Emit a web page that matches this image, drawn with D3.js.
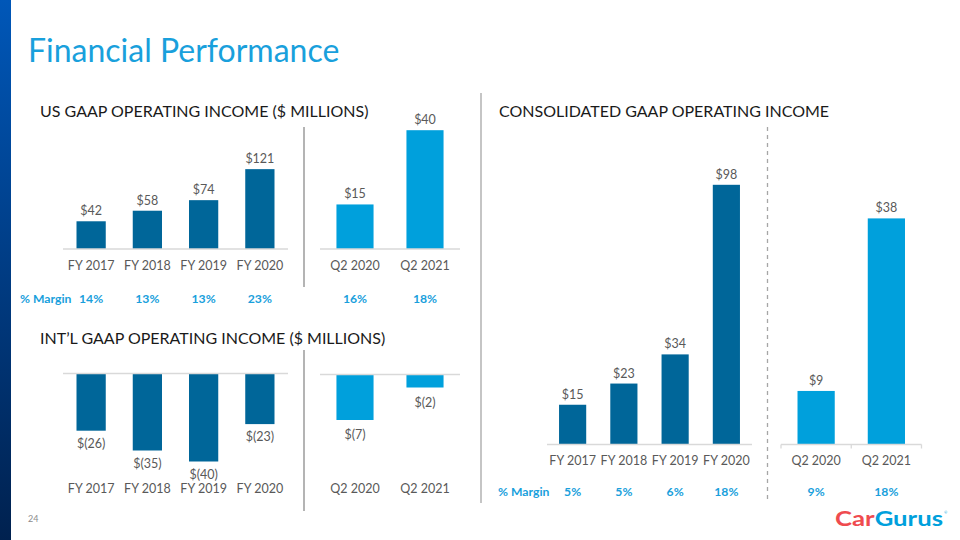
<!DOCTYPE html>
<html>
<head>
<meta charset="utf-8">
<script src="https://cdn.jsdelivr.net/npm/d3@7"></script>
<style>
  html, body { margin: 0; padding: 0; background: #fff; }
  svg { display: block; font-family: Lato, "Open Sans", sans-serif; }
</style>
</head>
<body>
<svg id="chart" width="960" height="540"></svg>
<script>
// ---------- DATA ----------
const fyCategories = ["FY 2017", "FY 2018", "FY 2019", "FY 2020"];
const qCategories = ["Q2 2020", "Q2 2021"];

const usFyValues = [42, 58, 74, 121];
const usQValues = [15, 40];
const usFyMargins = ["14%", "13%", "13%", "23%"];
const usQMargins = ["16%", "18%"];

const intlFyValues = [-26, -35, -40, -23];
const intlQValues = [-7, -2];

const consFyValues = [15, 23, 34, 98];
const consQValues = [9, 38];
const consFyMargins = ["5%", "5%", "6%", "18%"];
const consQMargins = ["9%", "18%"];

const titles = {
  main: "Financial Performance",
  us: "US GAAP OPERATING INCOME ($ MILLIONS)",
  intl: "INT\u2019L GAAP OPERATING INCOME ($ MILLIONS)",
  cons: "CONSOLIDATED GAAP OPERATING INCOME",
  margin: "% Margin",
  page: "24"
};

// ---------- STYLE ----------
const DARK = "#006699";
const LIGHT = "#00a0dc";
const TITLE_BLUE = "#19a0dc";
const LABEL = "#595959";
const AXIS = "#d9d9d9";

const svg = d3.select("#chart");

// left gradient strip
const defs = svg.append("defs");
const grad = defs.append("linearGradient").attr("id", "strip")
  .attr("x1", 0).attr("y1", 0).attr("x2", 0).attr("y2", 1);
grad.append("stop").attr("offset", "0%").attr("stop-color", "#0057b8");
grad.append("stop").attr("offset", "100%").attr("stop-color", "#00214f");
svg.append("rect").attr("x", 0).attr("y", 0).attr("width", 11).attr("height", 540)
  .attr("fill", "url(#strip)");

// main title
svg.append("text").attr("x", 28).attr("y", 62)
  .attr("font-size", 32).attr("fill", TITLE_BLUE).text(titles.main);

// section headers
function header(x, y, t) {
  svg.append("text").attr("x", x).attr("y", y)
    .attr("font-size", 16).attr("fill", "#1a1a1a").text(t);
}
header(40, 117, titles.us);
header(40, 344, titles.intl);
header(499, 117, titles.cons);

const fmt = v => v < 0 ? `$(${Math.abs(v)})` : `$${v}`;

// generic bar panel: y(v) = y0 - v*k
function panel(o) {
  const x = d3.scaleBand().domain(o.cats).range(o.xr)
    .paddingInner(o.pad).paddingOuter(o.pad / 2);
  const y = d3.scaleLinear().domain([0, 1]).range([o.y0, o.y0 - o.k]);

  const g = svg.append("g");
  g.selectAll("rect").data(o.vals).join("rect")
    .attr("x", (d, i) => x(o.cats[i]))
    .attr("width", x.bandwidth())
    .attr("y", d => Math.min(y(d), y(0)))
    .attr("height", d => Math.abs(y(d) - y(0)))
    .attr("fill", o.color);

  // axis line
  const axis = d3.axisBottom(x).tickSize(0).tickFormat("");
  const ag = g.append("g").attr("transform", `translate(0,${o.y0})`).call(axis);
  ag.select(".domain").attr("stroke", AXIS).attr("stroke-width", 1.3)
    .attr("d", `M${o.xr[0]},0H${o.xr[1]}` + (o.ticks ? `M${o.xr[0]},0V4M${o.xr[1]},0V4` : ""));
  ag.selectAll(".tick").remove();
  if (o.ticks) {
    ag.append("path").attr("stroke", AXIS).attr("stroke-width", 1.3)
      .attr("d", `M${(o.xr[0] + o.xr[1]) / 2},0V4`);
  }

  // value labels
  g.selectAll("text.val").data(o.vals).join("text").attr("class", "val")
    .attr("x", (d, i) => x(o.cats[i]) + x.bandwidth() / 2)
    .attr("y", d => d >= 0 ? y(d) - 6 : y(d) + (o.negOff || 17))
    .attr("text-anchor", "middle").attr("font-size", 12.5).attr("fill", LABEL)
    .text(fmt);

  // category labels
  g.selectAll("text.cat").data(o.cats).join("text").attr("class", "cat")
    .attr("x", d => x(d) + x.bandwidth() / 2)
    .attr("y", o.catY)
    .attr("text-anchor", "middle").attr("font-size", 12.5).attr("fill", LABEL)
    .text(d => d);

  // margins
  if (o.margins) {
    g.selectAll("text.mar").data(o.margins).join("text").attr("class", "mar")
      .attr("x", (d, i) => x(o.cats[i]) + x.bandwidth() / 2)
      .attr("y", o.marY)
      .attr("text-anchor", "middle").attr("font-size", 12.2).attr("font-weight", 700)
      .attr("fill", TITLE_BLUE).text(d => d);
  }
}

// US
panel({cats: fyCategories, vals: usFyValues, xr: [63, 288], pad: 0.48, y0: 249, k: 0.66,
  color: DARK, catY: 270, margins: usFyMargins, marY: 303});
panel({cats: qCategories, vals: usQValues, xr: [320, 460], pad: 0.47, y0: 249, k: 2.97,
  color: LIGHT, catY: 270, margins: usQMargins, marY: 303});
// INT'L
panel({cats: fyCategories, vals: intlFyValues, xr: [63, 288], pad: 0.48, y0: 373.5, k: 2.2,
  color: DARK, catY: 493});
panel({cats: qCategories, vals: intlQValues, xr: [320, 460], pad: 0.47, y0: 374.5, k: 6.5,
  color: LIGHT, catY: 493, negOff: 19});
// Consolidated
panel({cats: fyCategories, vals: consFyValues, xr: [547, 752], pad: 0.47, y0: 444.5, k: 2.65,
  color: DARK, catY: 465, margins: consFyMargins, marY: 496});
panel({cats: qCategories, vals: consQValues, xr: [781, 921.5], pad: 0.47, y0: 444.5, k: 5.95,
  color: LIGHT, catY: 465, margins: consQMargins, marY: 496, ticks: true});

// "% Margin" labels
function marginLabel(x, y) {
  svg.append("text").attr("x", x).attr("y", y).attr("font-size", 12.2).attr("font-weight", 700)
    .attr("fill", TITLE_BLUE).text(titles.margin);
}
marginLabel(20, 303);
marginLabel(498, 496);

// separators
const sep = (x, y1, y2, dash, color) => svg.append("line")
  .attr("x1", x).attr("x2", x).attr("y1", y1).attr("y2", y2)
  .attr("stroke", color).attr("stroke-width", 1.3).attr("stroke-dasharray", dash);
sep(304, 127, 287, null, "#8c8c8c");
sep(304, 350, 511, null, "#8c8c8c");
sep(481, 93, 503, null, "#a6a6a6");
sep(767.5, 127, 502, "4,4", "#a6a6a6");

// page number
svg.append("text").attr("x", 28).attr("y", 522).attr("font-size", 9).attr("fill", "#8c8c8c")
  .text(titles.page);

// logo text
const logo = svg.append("text").attr("x", 835).attr("y", 526)
  .attr("font-size", 21).attr("font-weight", 700).attr("textLength", 108)
  .attr("lengthAdjust", "spacingAndGlyphs");
logo.append("tspan").attr("fill", "#ef4b4f").text("Car");
logo.append("tspan").attr("fill", LIGHT).text("Gurus");
svg.append("text").attr("x", 944).attr("y", 514).attr("font-size", 4).attr("fill", LIGHT).text("\u00ae");
</script>
</body>
</html>
